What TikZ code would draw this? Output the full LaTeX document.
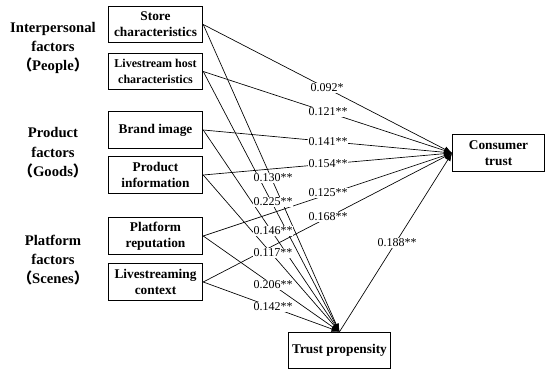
\documentclass[tikz,border=0pt]{standalone}
\usepackage{fontspec}
\setmainfont{Liberation Serif}
\newfontfamily\cjk{Noto Sans CJK SC}
\usetikzlibrary{arrows.meta, positioning}

\begin{document}
\begin{tikzpicture}[x=0.75pt, y=-0.75pt,
				->,
				>={Latex[length=6pt,width=4.5pt]},
				line width=0.5pt,
				box/.style={draw, line width=0.6pt, minimum width=71pt, minimum height=27.5pt, inner sep=1pt, align=center, font=\fontsize{10}{12}\selectfont\bfseries},
				group/.style={align=center, font=\fontsize{11}{14.5}\selectfont\bfseries},
				coef/.style={fill=white, inner sep=0.4pt, font=\fontsize{9}{10}\selectfont}]
				\useasboundingbox (0,0) rectangle (545,370);
				% factor groups
				\node at (53,48) (people) [group] {Interpersonal\\factors\\{\cjk （}People{\cjk ）}};
				\node at (53,153) (goods) [group] {Product\\factors\\{\cjk （}Goods{\cjk ）}};
				\node at (53,260) (scenes) [group] {Platform\\factors\\{\cjk （}Scenes{\cjk ）}};
				% variables
				\node at (155.5,24.5) (store) [box] {Store\\characteristics};
				\node at (155.5,71.5) (host) [box, font=\fontsize{9}{12}\selectfont\bfseries] {Livestream host\\characteristics};
				\node at (155.5,130) (brand) [box] {Brand image};
				\node at (155.5,175) (info) [box] {Product\\information};
				\node at (155.5,236) (repu) [box] {Platform\\reputation};
				\node at (155.5,282) (context) [box] {Livestreaming\\context};
				\node at (498.5,153) (trust) [box, minimum width=69pt] {Consumer\\trust};
				\node at (339.5,350.5) (prop) [box, minimum width=76pt] {Trust propensity};
				% paths to consumer trust
				\draw (store.east) -- (trust.west);
				\draw (host.east) -- (trust.west);
				\draw (brand.east) -- (trust.west);
				\draw (info.east) -- (trust.west);
				\draw (repu.east) -- (trust.west);
				\draw (context.east) -- (trust.west);
				% paths to trust propensity
				\draw (store.east) -- (prop.north);
				\draw (host.east) -- (prop.north);
				\draw (brand.east) -- (prop.north);
				\draw (info.east) -- (prop.north);
				\draw (repu.east) -- (prop.north);
				\draw (context.east) -- (prop.north);
				\draw (prop.north) -- (trust.west);
				% coefficients
				\node at (327,88) (c1) [coef] {0.092*};
				\node at (328,112) (c2) [coef] {0.121**};
				\node at (328,142) (c3) [coef] {0.141**};
				\node at (328,164) (c4) [coef] {0.154**};
				\node at (328,193) (c5) [coef] {0.125**};
				\node at (328,217) (c6) [coef] {0.168**};
				\node at (273,178) (p1) [coef] {0.130**};
				\node at (273,202) (p2) [coef] {0.225**};
				\node at (273,231) (p3) [coef] {0.146**};
				\node at (273,253) (p4) [coef] {0.117**};
				\node at (273,285) (p5) [coef] {0.206**};
				\node at (273,307) (p6) [coef] {0.142**};
				\node at (397,243) (t1) [coef] {0.188**};
			\end{tikzpicture}
\end{document}
